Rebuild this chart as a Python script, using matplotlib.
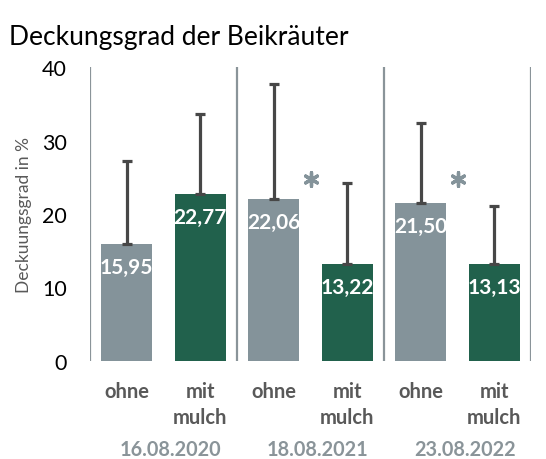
import matplotlib.pyplot as plt
import numpy as np

plt.rcParams['font.family'] = ['Lato', 'DejaVu Sans']

dates = ['16.08.2020', '18.08.2021', '23.08.2022']
treatments = ['ohne', 'mit', 'mulch']
ohne = [15.95, 22.06, 21.50]
mulch = [22.77, 13.22, 13.13]
ohne_err = [11.2, 15.6, 10.9]
mulch_err = [10.9, 11.0, 7.9]
signif = [False, True, True]
star_y = 24.8

c_gray = '#84939a'
c_green = '#21614c'
c_err = '#474747'
c_text = '#595959'

fig = plt.figure(figsize=(5.46, 4.60), dpi=100)
ax = fig.add_axes([90 / 546, 1 - 362 / 460, 441 / 546, 294 / 460])

x = np.arange(len(dates))
w = 0.345
errkw = dict(ecolor=c_err, elinewidth=2.3, capsize=3.6, capthick=2.3)
ax.bar(x - 0.25, ohne, w, color=c_gray, yerr=[np.zeros(3), ohne_err], error_kw=errkw, zorder=2)
ax.bar(x + 0.25, mulch, w, color=c_green, yerr=[np.zeros(3), mulch_err], error_kw=errkw, zorder=2)

for xi, v in zip(np.concatenate([x - 0.25, x + 0.25]), ohne + mulch):
    ax.annotate(f'{v:.2f}'.replace('.', ','), (xi, v), xytext=(0, -16.5),
                textcoords='offset points', ha='center', va='center',
                color='white', fontsize=15, fontweight='bold', zorder=3)

sx = [xi for xi, s in zip(x, signif) if s]
ax.scatter(sx, [star_y] * len(sx), marker=(6, 2, 0), s=95, color=c_gray,
           linewidths=2.4, zorder=3)

for xs in np.arange(-0.5, len(dates), 1.0):
    ax.axvline(xs, color='#8a9499', lw=1.6, zorder=1)

ax.set_xlim(-0.5, len(dates) - 0.5)
ax.set_ylim(0, 40)
ax.set_yticks([0, 10, 20, 30, 40])
ax.tick_params(axis='y', length=0, labelsize=15.5, pad=16.5)
ax.set_xticks([])
for sp in ax.spines.values():
    sp.set_visible(False)

ax.set_ylabel('Deckuungsgrad in %', fontsize=12.5, color=c_text)
ax.yaxis.set_label_coords(-0.131, 0.5)

tr = ax.get_xaxis_transform()
for xi in x:
    ax.text(xi - 0.25, -0.102, treatments[0], transform=tr, ha='center', va='center',
            fontsize=14.5, fontweight='bold', color=c_text)
    ax.text(xi + 0.25, -0.102, treatments[1], transform=tr, ha='center', va='center',
            fontsize=14.5, fontweight='bold', color=c_text)
    ax.text(xi + 0.25, -0.190, treatments[2], transform=tr, ha='center', va='center',
            fontsize=14.5, fontweight='bold', color=c_text)
    ax.text(xi + 0.05, -0.299, dates[xi], transform=tr, ha='center', va='center',
            fontsize=14.3, fontweight='bold', color='#8a9499')

fig.text(9 / 546, 1 - 38 / 460, 'Deckungsgrad der Beikräuter', fontsize=19,
         ha='left', va='center', color='black')

fig.savefig('out.png', dpi=100)
